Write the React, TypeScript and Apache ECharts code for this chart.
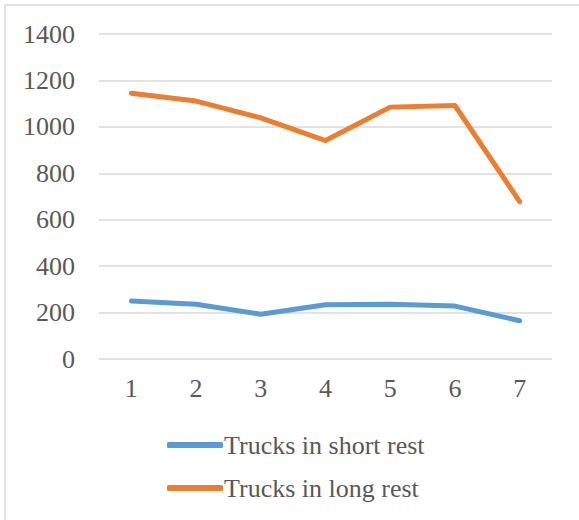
import React, { useEffect, useRef } from "react";
import * as echarts from "echarts";

const categories = ["1", "2", "3", "4", "5", "6", "7"];
const shortRest = [250, 236, 193, 234, 236, 228, 165];
const longRest = [1145, 1111, 1039, 941, 1085, 1092, 678];
const seriesNames = ["Trucks in short rest", "Trucks in long rest"];

const FONT = "Liberation Serif";

export default function App() {
  const ref = useRef<HTMLDivElement>(null);
  useEffect(() => {
    const chart = echarts.init(ref.current!, undefined, { renderer: "svg" });
    chart.setOption({
      animation: false,
      backgroundColor: "#ffffff",
      textStyle: { fontFamily: FONT },
      grid: { left: 99, right: 27, top: 34, bottom: 161, containLabel: false },
      xAxis: {
        type: "category",
        data: categories,
        boundaryGap: true,
        axisLine: { show: false },
        axisTick: { show: false },
        axisLabel: { color: "#595959", fontSize: 26, fontFamily: FONT, margin: 16 },
      },
      yAxis: {
        type: "value",
        min: 0,
        max: 1400,
        interval: 200,
        axisLine: { show: false },
        axisTick: { show: false },
        splitLine: { lineStyle: { color: "#D9D9D9", width: 1.5 } },
        axisLabel: {
          color: "#595959",
          fontSize: 26,
          fontFamily: FONT,
          margin: 24,
          formatter: (v: number) => String(v),
        },
      },
      legend: {
        orient: "vertical",
        left: 162,
        top: 427,
        itemWidth: 56,
        itemHeight: 6,
        itemGap: 17,
        icon: "roundRect",
        textStyle: { color: "#595959", fontSize: 26, fontFamily: FONT, padding: [0, 0, 0, -4] },
        data: seriesNames,
      },
      series: [
        {
          name: seriesNames[0],
          type: "line",
          data: shortRest,
          showSymbol: false,
          symbol: "none",
          color: "#5B9BD5",
          lineStyle: { width: 5, color: "#5B9BD5", cap: "round", join: "round" },
        },
        {
          name: seriesNames[1],
          type: "line",
          data: longRest,
          showSymbol: false,
          symbol: "none",
          color: "#ED7D31",
          lineStyle: { width: 5, color: "#ED7D31", cap: "round", join: "round" },
        },
      ],
      graphic: [
        { type: "line", shape: { x1: 5, y1: 5, x2: 579, y2: 5 }, style: { stroke: "#D9D9D9", lineWidth: 1.5 } },
        { type: "line", shape: { x1: 5, y1: 5, x2: 5, y2: 520 }, style: { stroke: "#D9D9D9", lineWidth: 1.5 } },
      ],
    });
    return () => chart.dispose();
  }, []);
  return (
    <div
      ref={ref}
      style={{ position: "fixed", left: 0, top: 0, width: 579, height: 520 }}
    />
  );
}
